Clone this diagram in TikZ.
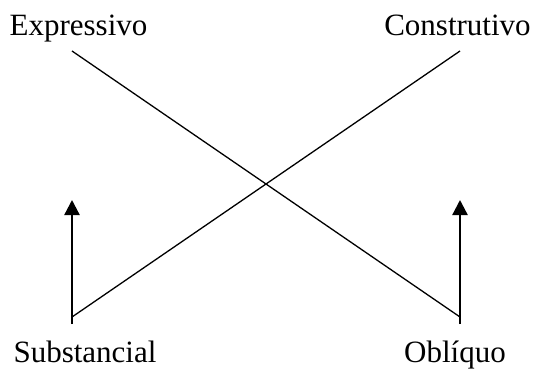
\documentclass[tikz,border=0pt]{standalone}
\usepackage{fontspec}
\setmainfont{Liberation Serif}
\usetikzlibrary{arrows.meta}

\begin{document}
\begin{tikzpicture}[x=1pt,y=-1pt,
    lbl/.style={anchor=base,inner sep=0pt,font=\fontsize{31}{31}\selectfont},
    cross/.style={line width=1.3pt},
    rise/.style={line width=2.3pt,-{Triangle[length=15pt,width=15pt]}}]
            \useasboundingbox (0,0) rectangle (537,371);
            \node[lbl] (expr) at (78.5,36) {Expressivo};
            \node[lbl] (cons) at (457.5,36) {Construtivo};
            \node[lbl] (subs) at (85,362) {Substancial};
            \node[lbl] (obli) at (455,362) {Oblíquo};

            % ends of the lines
            \coordinate (exprtop) at (72,51);
            \coordinate (constop) at (460,51);
            \coordinate (subsend) at (72,317);
            \coordinate (obliend) at (460,317);
            \coordinate (subsfoot) at (72,324);
            \coordinate (oblifoot) at (460,324);
            \coordinate (substip) at (72,200);
            \coordinate (oblitip) at (460,200);

            \draw[cross] (exprtop)--(obliend);
            \draw[cross] (constop)--(subsend);
            \draw[rise] (subsfoot)--(substip);
            \draw[rise] (oblifoot)--(oblitip);
        \end{tikzpicture}
\end{document}
